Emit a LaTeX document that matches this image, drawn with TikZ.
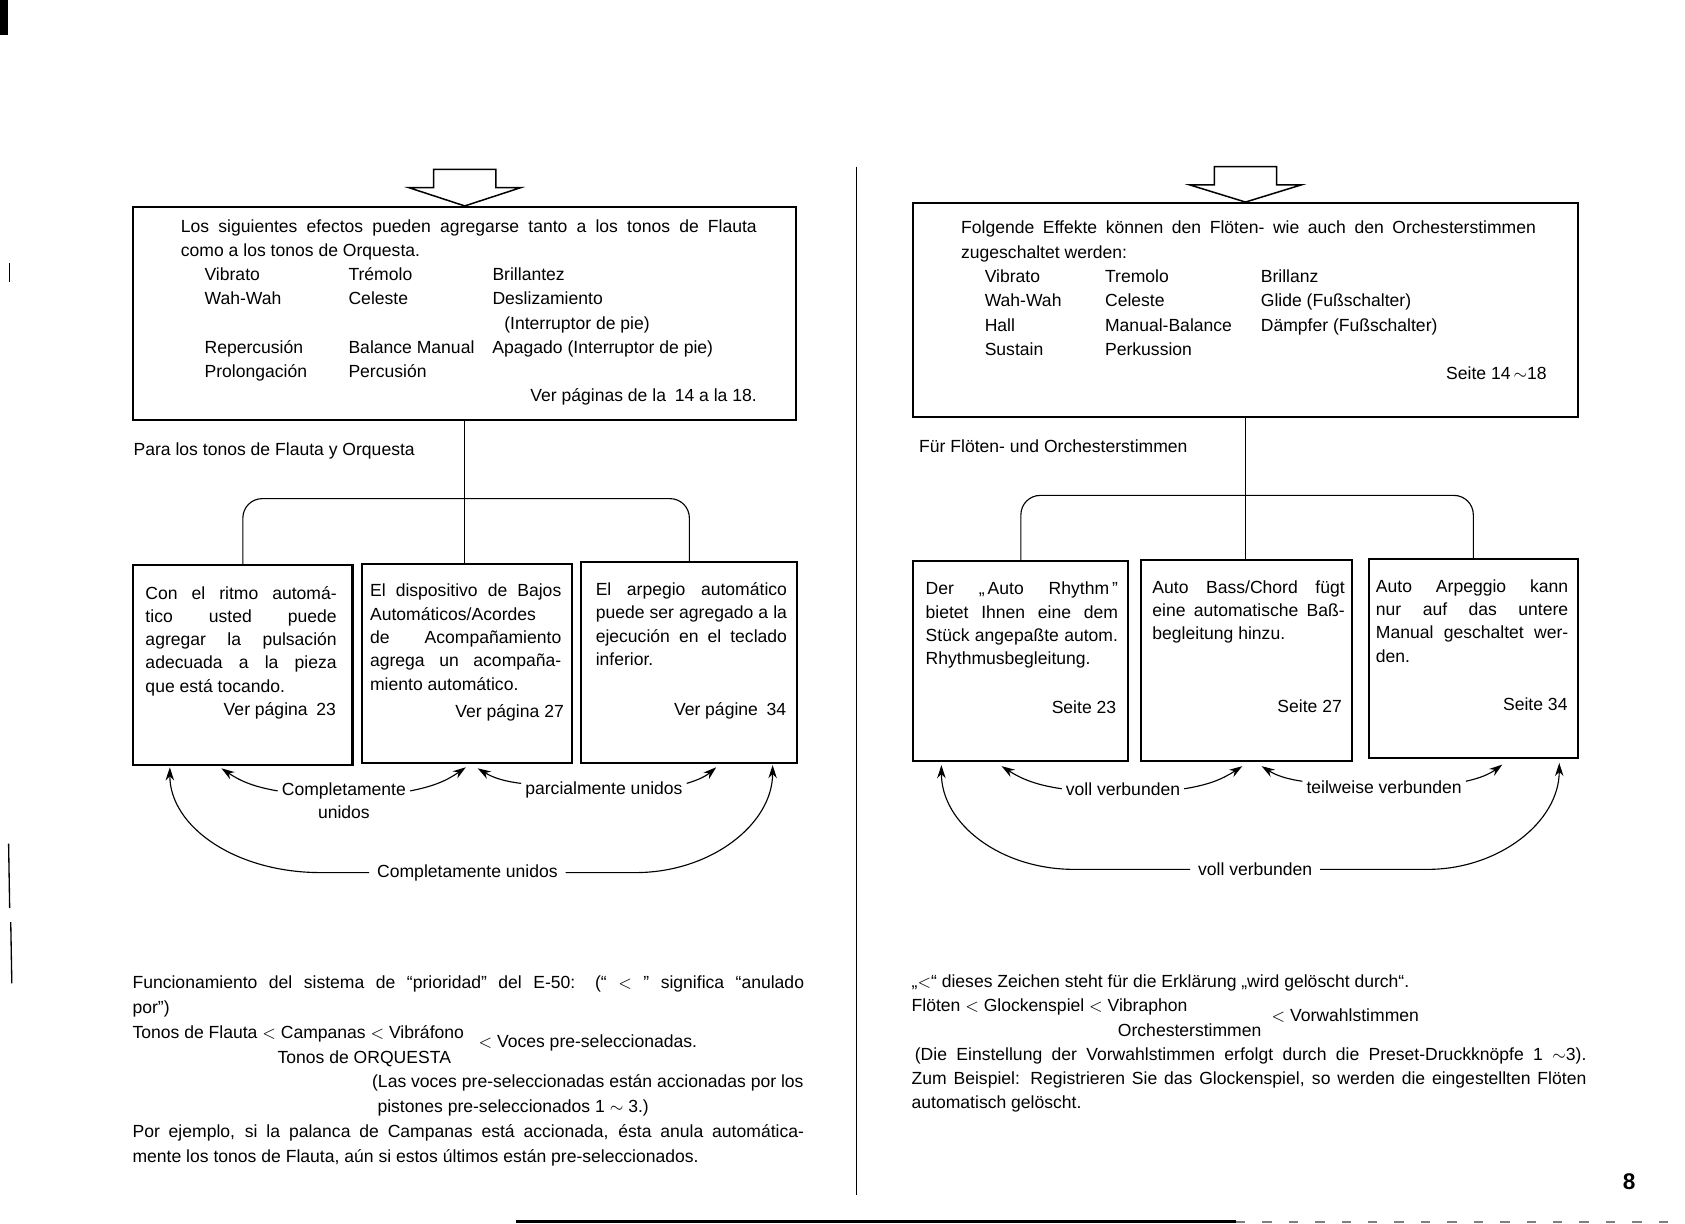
\documentclass[tikz,border=0pt]{standalone}
\usepackage{fontspec}
\setmainfont{Liberation Sans}
\usetikzlibrary{calc,fit,arrows.meta}

\newcommand\natsp{\spaceskip=0pt\xspaceskip=0pt\relax}
\newcommand\jl[1]{{\natsp\makebox[\linewidth][s]{#1}}}
\newcommand\efcol[2]{\makebox[#1][l]{#2}}
\newcommand\lt{\ $<$\ }

\tikzset{
  frame/.style={draw,line width=1.1pt,inner sep=0pt},
  link/.style={line width=0.6pt},
  arr/.style={line width=0.6pt,-{Stealth[length=7pt,width=4.5pt]}},
  body/.style={inner sep=0pt,anchor=base west,
    font=\fontsize{9.3}{12.85}\selectfont},
  boxtext/.style={body,font=\fontsize{9.3}{12.35}\selectfont},
  pageref/.style={inner sep=0pt,anchor=base east,font=\fontsize{9.3}{11}\selectfont},
  tag/.style={inner sep=2pt,font=\fontsize{9.3}{11}\selectfont},
  hollow/.style={draw,line width=0.8pt}
}

\begin{document}
\begin{tikzpicture}[x=0.02cm,y=-0.02cm]
\useasboundingbox (0,0) rectangle (1568,1139);

% scan edges
\fill (0,0) rectangle (7,33);
\draw[line width=0.6pt] (9,245) -- (9,262);
\draw[line width=0.7pt] (8,785) -- (9,845);
\draw[line width=0.7pt] (10,858) -- (11,915);
\draw[line width=1.5pt] (480,1137) -- (1150,1137);
\draw[line width=0.7pt,gray,dash pattern=on 5pt off 9pt] (1150,1137) -- (1560,1137);
\draw[line width=0.5pt] (797,155) -- (797,1112);

% ---------- left page ----------
\node[frame,fit={(124,192.6) (741,390.8)}] (lmain) {};
\draw[hollow] (lmain.north) -- ++(-52,-17) -- ++(23,0) -- ++(0,-17) -- ++(58,0)
  -- ++(0,17) -- ++(23,0) -- cycle;
\node[body,text width=10.72cm] (lmaintext) at ($(lmain.north west)+(45,24.4)$) {\natsp
\jl{Los siguientes efectos pueden agregarse tanto a los tonos de Flauta}\\
como a los tonos de Orquesta.\\
\hspace*{0.44cm}\efcol{2.68cm}{Vibrato}\efcol{2.68cm}{Trémolo}Brillantez\\
\hspace*{0.44cm}\efcol{2.68cm}{Wah-Wah}\efcol{2.68cm}{Celeste}Deslizamiento\\
\hspace*{6.02cm}(Interruptor de pie)\\
\hspace*{0.44cm}\efcol{2.68cm}{Repercusión}\efcol{2.68cm}{Balance Manual}Apagado (Interruptor de pie)\\
\hspace*{0.44cm}\efcol{2.68cm}{Prolongación}Percusión\\
\makebox[\linewidth][r]{Ver páginas de la\enspace 14 a la 18.}};
\node[body] (lside) at (124,424) {Para los tonos de Flauta y Orquesta};

\node[frame,fit={(124,525.8) (328,712)}] (lboxA) {};
\node[frame,fit={(337,524.8) (532,710)}] (lboxB) {};
\node[frame,fit={(541,523) (742,710)}] (lboxC) {};

\node[boxtext,text width=3.56cm] (lboxAtext) at ($(lboxA.north west)+(12,32.6)$) {\natsp
\jl{Con el ritmo automá-}\\
\jl{tico usted puede}\\
\jl{agregar la pulsación}\\
\jl{adecuada a la pieza}\\
que está tocando.};
\node[pageref] (lboxAref) at ($(lboxA.north west)+(190,141.2)$) {Ver página\enspace 23};

\node[boxtext,text width=3.56cm] (lboxBtext) at ($(lboxB.north west)+(8,31.7)$) {\natsp
\jl{El dispositivo de Bajos}\\
Automáticos/Acordes\\
\jl{de Acompañamiento}\\
\jl{agrega un acompaña-}\\
miento automático.};
\node[pageref] (lboxBref) at ($(lboxB.north west)+(189,143.7)$) {Ver página 27};

\node[boxtext,text width=3.56cm] (lboxCtext) at ($(lboxC.north west)+(14,32)$) {\natsp
\jl{El arpegio automático}\\
\jl{puede ser agregado a la}\\
\jl{ejecución en el teclado}\\
inferior.};
\node[pageref] (lboxCref) at ($(lboxC.north west)+(192,144)$) {Ver págine\enspace 34};

% fork
\coordinate (lfork) at (434,464);
\draw[link] (lmain.south) -- (lmain.south |- lboxB.north);
\draw[link,rounded corners=0.36cm] (lboxA.north) |- (lfork) -| (lboxC.north);

% linking arrows
\node[tag] (lpairA) at (320,736) {Completamente};
\node[tag] (lpairB) at (320,756) {unidos};
\node[tag] (lpart) at (562,735) {parcialmente unidos};
\node[tag,inner sep=4pt] (lfull) at (435,812) {Completamente unidos};
\draw[arr] (lpairA.west) to[bend left=12] ($(lboxA.south west)+(83,2)$);
\draw[arr] (lpairA.east) to[bend right=12] ($(lboxB.south)+(-1,3)$);
\draw[arr] ($(lpart.west)+(0,-6)$) to[bend left=12] ($(lboxB.south)+(10,4)$);
\draw[arr] ($(lpart.east)+(0,-6)$) to[bend right=12] ($(lboxC.south)+(25,3)$);
\draw[arr] (lfull.west) -- ++(-45,0) .. controls +(-80,0) and +(0,55) .. ($(lboxA.south west)+(35,1)$);
\draw[arr] (lfull.east) -- ++(65,0) .. controls +(70,0) and +(0,55) .. ($(lboxC.south east)+(-24,1)$);

% priority
\node[body,text width=12.5cm,font=\fontsize{9.3}{13.15}\selectfont] (lprio) at (123,920) {\natsp
\jl{Funcionamiento del sistema de “prioridad” del E-50: (“ $<$ ” significa “anulado}\\
por”)\\
Tonos de Flauta\lt Campanas\lt Vibráfono\\
\hspace*{2.7cm}Tonos de ORQUESTA\\
\hspace*{4.46cm}(Las voces pre-seleccionadas están accionadas por los\\
\hspace*{4.56cm}pistones pre-seleccionados 1 $\sim$ 3.)\\
\jl{Por ejemplo, si la palanca de Campanas está accionada, ésta anula automática-}\\
mente los tonos de Flauta, aún si estos últimos están pre-seleccionados.};
\node[body] (lprioend) at (445,975) {$<$ Voces pre-seleccionadas.};

% ---------- right page ----------
\node[frame,fit={(850,189) (1468,387.8)}] (rmain) {};
\draw[hollow] (rmain.north) -- ++(-52,-16) -- ++(23,0) -- ++(0,-17) -- ++(58,0)
  -- ++(0,17) -- ++(23,0) -- cycle;
\node[body,text width=10.7cm] (rmaintext) at ($(rmain.north west)+(45,29.7)$) {\natsp
\jl{Folgende Effekte können den Flöten- wie auch den Orchesterstimmen}\\
zugeschaltet werden:\\
\hspace*{0.44cm}\efcol{2.24cm}{Vibrato}\efcol{2.9cm}{Tremolo}Brillanz\\
\hspace*{0.44cm}\efcol{2.24cm}{Wah-Wah}\efcol{2.9cm}{Celeste}Glide (Fußschalter)\\
\hspace*{0.44cm}\efcol{2.24cm}{Hall}\efcol{2.9cm}{Manual-Balance}Dämpfer (Fußschalter)\\
\hspace*{0.44cm}\efcol{2.24cm}{Sustain}Perkussion\\
\makebox[\linewidth][r]{Seite 14\,$\sim$18\kern-0.2cm}};
\node[body] (rside) at (855,421) {Für Flöten- und Orchesterstimmen};

\node[frame,fit={(850,522) (1050,708)}] (rboxA) {};
\node[frame,fit={(1062,521) (1258,708)}] (rboxB) {};
\node[frame,fit={(1274,520) (1468,705.5)}] (rboxC) {};

\node[boxtext,text width=3.58cm] (rboxAtext) at ($(rboxA.north west)+(12,32.6)$) {\natsp
\jl{Der „\,Auto Rhythm\,”}\\
\jl{bietet Ihnen eine dem}\\
\jl{Stück angepaßte autom.}\\
Rhythmusbegleitung.};
\node[pageref] (rboxAref) at ($(rboxA.north west)+(190,142.7)$) {Seite 23};

\node[boxtext,text width=3.58cm] (rboxBtext) at ($(rboxB.north west)+(11,32)$) {\natsp
\jl{Auto Bass/Chord fügt}\\
\jl{eine automatische Baß-}\\
begleitung hinzu.};
\node[pageref] (rboxBref) at ($(rboxB.north west)+(188,142.8)$) {Seite 27};

\node[boxtext,text width=3.58cm] (rboxCtext) at ($(rboxC.north west)+(7,32)$) {\natsp
\jl{Auto Arpeggio kann}\\
\jl{nur auf das untere}\\
\jl{Manual geschaltet wer-}\\
den.};
\node[pageref] (rboxCref) at ($(rboxC.north west)+(186,142.3)$) {Seite 34};

% fork
\coordinate (rfork) at (1161,461);
\draw[link] (rmain.south) -- (rmain.south |- rboxB.north);
\draw[link,rounded corners=0.36cm] (rboxA.north) |- (rfork) -| (rboxC.north);

% linking arrows
\node[tag] (rpair) at (1045,734) {voll verbunden};
\node[tag] (rpart) at (1288,733) {teilweise verbunden};
\node[tag,inner sep=4pt] (rfull) at (1168,809) {voll verbunden};
\draw[arr] (rpair.west) to[bend left=12] ($(rboxA.south west)+(83,4)$);
\draw[arr] (rpair.east) to[bend right=12] ($(rboxB.south)+(-4,4)$);
\draw[arr] ($(rpart.west)+(0,-6)$) to[bend left=12] ($(rboxB.south)+(14,4)$);
\draw[arr] ($(rpart.east)+(0,-6)$) to[bend right=12] ($(rboxC.south)+(27,5)$);
\draw[arr] (rfull.west) -- ++(-108,0) .. controls +(-68,0) and +(0,55) .. ($(rboxA.south west)+(27,3)$);
\draw[arr] (rfull.east) -- ++(100,0) .. controls +(66,0) and +(0,55) .. ($(rboxC.south east)+(-18,3.5)$);

% priority
\node[body,text width=12.56cm] (rprio) at (848,919) {\natsp
„$<$“ dieses Zeichen steht für die Erklärung „wird gelöscht durch“.\\
Flöten\lt Glockenspiel\lt Vibraphon\\
\hspace*{3.84cm}Orchesterstimmen\\
\hspace*{0.06cm}{\natsp\makebox[12.5cm][s]{(Die Einstellung der Vorwahlstimmen erfolgt durch die Preset-Druckknöpfe 1 $\sim$3).}}\\
\jl{Zum Beispiel: Registrieren Sie das Glockenspiel, so werden die eingestellten Flöten}\\
automatisch gelöscht.};
\node[body] (rprioend) at (1183,951) {$<$ Vorwahlstimmen};

\node[inner sep=0pt,font=\bfseries\fontsize{12}{12}\selectfont] (pagenum) at (1516,1100) {8};
\end{tikzpicture}
\end{document}
